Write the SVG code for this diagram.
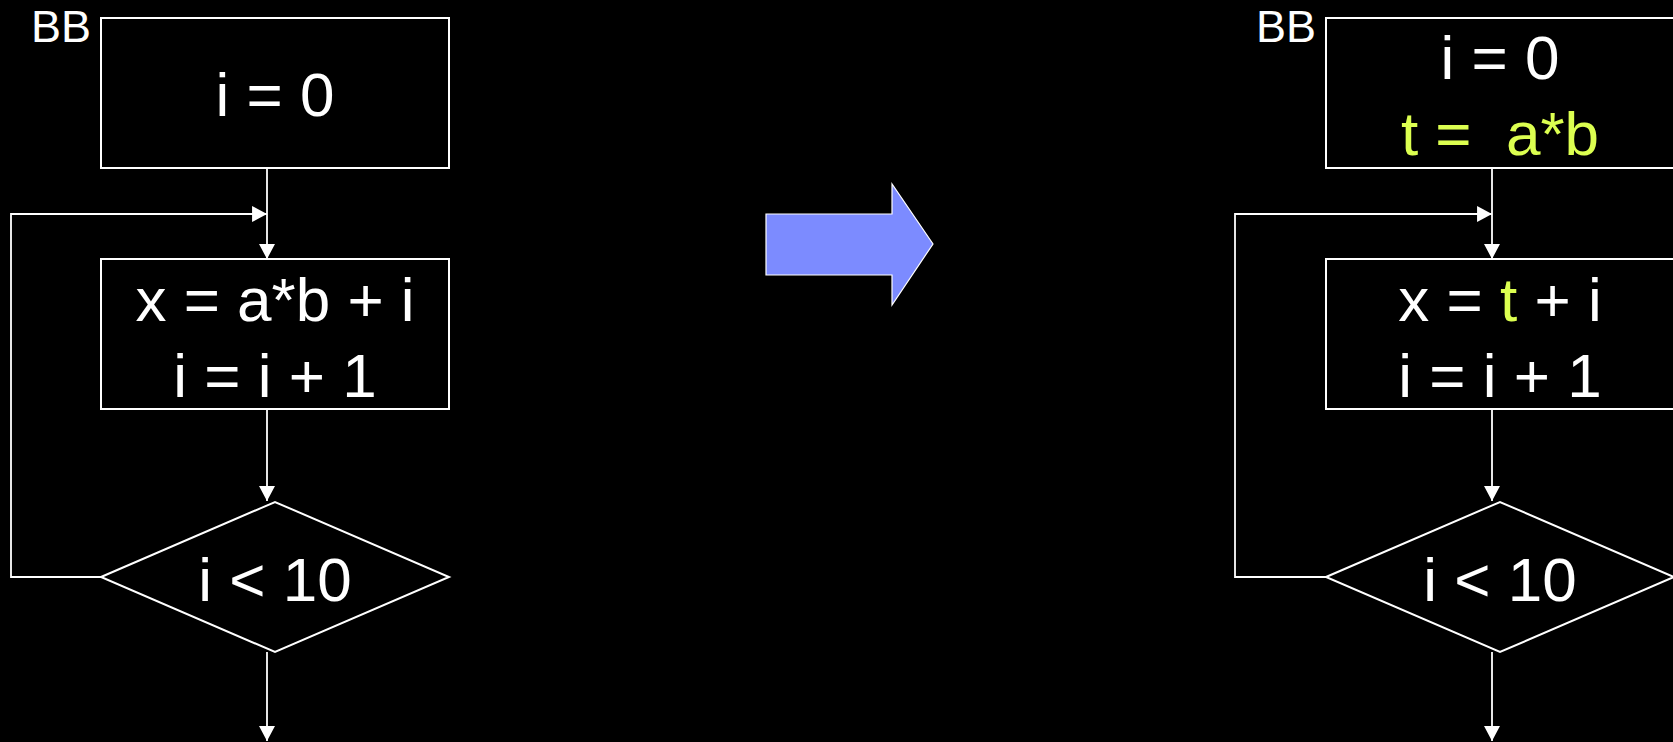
<svg xmlns="http://www.w3.org/2000/svg" width="1673" height="742" viewBox="0 0 1673 742">
<defs>
<style>
.bg{fill:#000}
.box{fill:none;stroke:#fff;stroke-width:2}
.ln{fill:none;stroke:#fff;stroke-width:1.8}
.t{font-family:"Liberation Sans",Arial,sans-serif;font-size:62px;fill:#fff;text-anchor:middle;white-space:pre}
.bb{font-family:"Liberation Sans",Arial,sans-serif;font-size:45px;fill:#fff}
.hl{fill:#dcff50}
</style>
<marker id="ah" markerUnits="userSpaceOnUse" markerWidth="16" markerHeight="16" viewBox="0 0 14 15" refX="14" refY="7.5" orient="auto">
<path d="M0,0 L14,7.5 L0,15 Z" fill="#fff"/>
</marker>
</defs>
<rect class="bg" x="0" y="0" width="1673" height="742"/>

<g id="connectors">
<line class="ln" x1="267" y1="168" x2="267" y2="259" marker-end="url(#ah)"/>
<polyline class="ln" points="101,577 11,577 11,214 267,214" marker-end="url(#ah)"/>
<line class="ln" x1="267" y1="409" x2="267" y2="501" marker-end="url(#ah)"/>
<line class="ln" x1="267" y1="652" x2="267" y2="741" marker-end="url(#ah)"/>

<line class="ln" x1="1492" y1="168" x2="1492" y2="259" marker-end="url(#ah)"/>
<polyline class="ln" points="1326,577 1235,577 1235,214 1492,214" marker-end="url(#ah)"/>
<line class="ln" x1="1492" y1="409" x2="1492" y2="501" marker-end="url(#ah)"/>
<line class="ln" x1="1492" y1="652" x2="1492" y2="741" marker-end="url(#ah)"/>
</g>

<g id="left-bb-label"><text class="bb" x="31" y="42">BB</text></g>
<g id="left-init">
<rect class="box" x="101" y="18" width="348" height="150"/>
<text class="t" x="275" y="116">i = 0</text>
</g>
<g id="left-body">
<rect class="box" x="101" y="259" width="348" height="150"/>
<text class="t" x="275" y="321">x = a*b + i</text>
<text class="t" x="275" y="397">i = i + 1</text>
</g>
<g id="left-cond">
<polygon class="box" points="101,577 275,502 449,577 275,652"/>
<text class="t" x="275" y="601">i &lt; 10</text>
</g>

<g id="transform-arrow">
<polygon points="766,214 892,214 892,184 933,244 892,305 892,275 766,275" fill="#7c8bff" stroke="#fff" stroke-width="1.2"/>
</g>

<g id="right-bb-label"><text class="bb" x="1256" y="42">BB</text></g>
<g id="right-init">
<rect class="box" x="1326" y="18" width="348" height="150"/>
<text class="t" x="1500" y="79">i = 0</text>
<text class="t hl" x="1500" y="155">t =  a*b</text>
</g>
<g id="right-body">
<rect class="box" x="1326" y="259" width="348" height="150"/>
<text class="t" x="1500" y="321">x = <tspan class="hl">t</tspan> + i</text>
<text class="t" x="1500" y="397">i = i + 1</text>
</g>
<g id="right-cond">
<polygon class="box" points="1326,577 1500,502 1674,577 1500,652"/>
<text class="t" x="1500" y="601">i &lt; 10</text>
</g>
</svg>
